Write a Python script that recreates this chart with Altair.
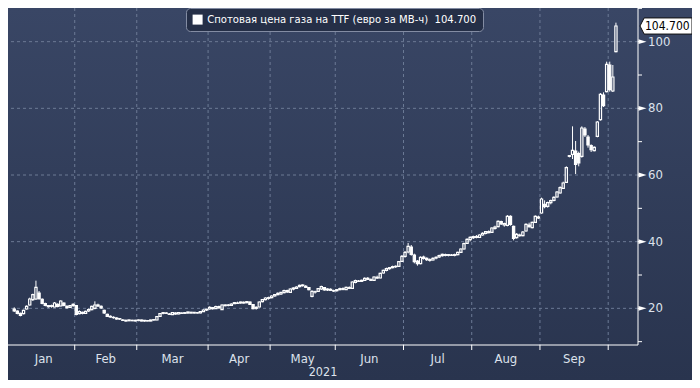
import altair as alt
import pandas as pd

# ---------------- data ----------------
months = ["Jan", "Feb", "Mar", "Apr", "May", "Jun", "Jul", "Aug", "Sep", "Oct"]
month_days = [20, 20, 23, 20, 21, 22, 22, 22, 22, 3]
month_shown = [True, True, True, True, True, True, True, True, True, False]
year_label = "2021"

open_ = [
    19.8, 19.2, 18.5, 18.4, 19.8, 21.0, 22.6, 22.8, 24.6, 22.7, 21.4, 20.8, 20.6, 20.4, 21.2, 20.7, 21.6, 20.6, 20.3, 20.8,
    20.8, 18.4, 18.8, 18.5, 19.2, 19.6, 20.0, 21.0, 20.6, 19.4, 18.2, 17.6, 17.3, 17.1, 16.8, 16.5, 16.4, 16.3, 16.4, 16.2,
    16.4, 16.5, 16.2, 16.3, 16.2, 16.5, 16.5, 17.6, 18.5, 18.6, 18.3, 18.1, 18.6, 18.3, 18.6, 18.5, 18.6, 18.8, 18.6, 18.7, 18.6, 19.0, 19.5,
    19.8, 20.2, 19.9, 20.5, 19.6, 20.8, 21.0, 20.9, 21.4, 21.6, 21.6, 21.8, 21.7, 21.9, 21.1, 20.0, 20.4, 22.0, 22.6, 23.0,
    23.2, 23.7, 24.1, 24.3, 24.7, 25.3, 24.8, 25.8, 26.0, 26.5, 26.8, 26.6, 26.2, 23.6, 24.9, 25.1, 25.8, 26.2, 25.5, 25.7, 25.3,
    25.3, 25.6, 25.9, 25.6, 26.2, 26.0, 27.8, 28.2, 28.1, 28.4, 29.0, 28.6, 28.4, 29.3, 29.1, 30.6, 31.4, 31.9, 32.2, 32.5, 32.6, 34.1,
    35.6, 36.9, 38.4, 36.0, 34.2, 33.4, 35.4, 35.0, 34.6, 34.5, 35.1, 35.4, 35.8, 36.1, 35.9, 36.0, 35.9, 36.1, 36.8, 37.8, 39.5, 40.6,
    41.2, 41.5, 41.3, 42.0, 42.5, 43.0, 42.8, 44.0, 44.5, 46.0, 45.0, 44.9, 47.6, 44.6, 41.2, 42.0, 41.8, 43.2, 45.0, 44.2, 45.8, 47.4,
    48.6, 51.2, 50.6, 51.7, 52.4, 53.4, 54.6, 56.0, 57.8, 65.6, 66.2, 67.2, 66.4, 65.6, 73.8, 71.4, 68.8, 67.3, 71.6, 76.6, 84.0, 85.0,
    93.0, 85.2, 97.0,
]
high = [
    20.3, 19.4, 18.7, 19.6, 20.9, 23.2, 24.4, 28.3, 25.2, 23.0, 21.7, 21.0, 21.1, 21.9, 21.5, 22.4, 21.8, 20.9, 21.0, 21.5,
    21.0, 19.4, 19.0, 19.3, 20.0, 20.8, 22.1, 21.4, 20.9, 19.6, 18.4, 17.9, 17.6, 17.3, 17.1, 16.8, 16.6, 16.7, 16.6, 16.6,
    16.7, 16.6, 16.5, 16.5, 16.6, 16.8, 17.7, 18.6, 18.9, 18.9, 18.6, 18.9, 18.8, 18.9, 18.8, 18.9, 19.0, 19.0, 18.9, 18.9, 19.2, 19.7, 19.9,
    20.6, 20.4, 20.8, 20.8, 21.2, 21.2, 21.3, 21.5, 21.9, 22.0, 22.0, 22.1, 22.2, 22.1, 21.3, 20.6, 22.1, 22.8, 23.3, 23.5,
    23.9, 24.3, 24.8, 24.9, 25.6, 25.6, 26.0, 26.3, 26.6, 27.1, 27.2, 27.0, 26.4, 25.4, 25.3, 26.1, 26.8, 26.4, 26.0, 26.0, 25.6,
    25.8, 26.2, 26.3, 26.5, 26.6, 28.1, 28.6, 28.5, 28.6, 29.3, 29.4, 29.0, 29.6, 29.8, 30.7, 31.6, 32.2, 32.4, 32.8, 32.9, 34.2, 36.0,
    37.2, 39.6, 39.0, 36.4, 34.5, 35.6, 35.8, 35.3, 35.0, 35.3, 35.6, 36.1, 36.4, 36.4, 36.3, 36.3, 36.4, 37.0, 38.0, 39.7, 41.0, 41.6,
    41.8, 42.0, 42.2, 42.8, 43.2, 43.4, 44.3, 44.8, 46.4, 46.3, 45.7, 48.0, 47.9, 44.8, 42.6, 42.4, 43.2, 45.5, 45.7, 46.0, 47.9, 47.8,
    53.2, 52.4, 52.0, 52.6, 53.6, 55.2, 56.6, 58.0, 62.6, 66.0, 74.6, 70.2, 67.0, 74.6, 74.4, 72.0, 69.2, 68.6, 76.2, 84.6, 84.8, 94.0,
    94.0, 93.0, 105.7,
]
low = [
    18.9, 18.2, 17.6, 18.2, 19.6, 20.8, 22.2, 22.5, 22.6, 21.2, 20.6, 20.2, 20.2, 20.3, 20.3, 20.6, 20.6, 19.9, 20.2, 20.5,
    17.9, 18.2, 18.2, 18.3, 18.9, 19.4, 19.7, 20.4, 19.8, 18.3, 17.4, 17.2, 16.9, 16.6, 16.5, 16.2, 16.0, 16.1, 16.1, 16.0,
    16.1, 16.1, 16.0, 16.1, 16.1, 16.3, 16.4, 17.5, 18.2, 18.3, 18.0, 18.0, 18.1, 18.2, 18.3, 18.3, 18.4, 18.4, 18.4, 18.4, 18.5, 18.9, 19.2,
    19.6, 19.6, 19.8, 19.9, 19.5, 20.6, 20.6, 20.8, 21.3, 21.3, 21.4, 21.4, 21.5, 21.0, 19.7, 19.6, 20.3, 21.8, 22.4, 22.6,
    23.0, 23.5, 23.9, 24.0, 24.5, 24.6, 24.7, 25.4, 25.8, 26.3, 26.5, 26.1, 25.4, 23.3, 24.4, 24.9, 25.5, 25.3, 25.2, 25.3, 24.9,
    25.0, 25.4, 25.4, 25.5, 25.8, 25.9, 27.5, 27.9, 27.9, 28.2, 28.5, 28.2, 28.3, 28.8, 29.0, 30.4, 31.1, 31.6, 32.0, 32.1, 32.5, 33.9,
    35.2, 36.5, 35.8, 33.5, 32.8, 33.2, 34.6, 34.2, 34.0, 34.3, 34.7, 35.1, 35.5, 35.6, 35.6, 35.7, 35.6, 35.9, 36.6, 37.6, 39.3, 40.1,
    40.8, 41.0, 41.1, 41.8, 42.2, 42.5, 42.6, 43.6, 44.3, 45.0, 44.5, 44.6, 44.8, 40.4, 40.9, 41.5, 41.6, 43.0, 44.2, 44.0, 45.6, 46.8,
    48.4, 50.0, 50.2, 51.2, 52.1, 53.2, 54.4, 55.8, 57.6, 65.3, 64.8, 60.3, 62.6, 65.2, 71.4, 68.2, 66.9, 67.1, 71.3, 76.3, 80.4, 84.8,
    85.0, 84.9, 96.8,
]
close = [
    19.2, 18.5, 17.9, 19.4, 20.6, 22.8, 24.1, 26.3, 22.9, 21.5, 20.9, 20.5, 20.8, 21.6, 20.6, 22.2, 20.9, 20.2, 20.8, 21.2,
    18.2, 19.0, 18.5, 19.1, 19.6, 20.6, 21.0, 20.7, 20.1, 18.6, 17.6, 17.4, 17.2, 16.8, 16.9, 16.4, 16.2, 16.5, 16.3, 16.4,
    16.5, 16.2, 16.4, 16.2, 16.5, 16.6, 17.5, 18.4, 18.7, 18.5, 18.2, 18.7, 18.3, 18.7, 18.5, 18.7, 18.9, 18.6, 18.8, 18.6, 19.0, 19.5, 19.7,
    20.3, 19.9, 20.5, 20.1, 21.0, 21.0, 20.9, 21.3, 21.7, 21.5, 21.9, 21.6, 22.0, 21.2, 19.9, 20.3, 21.9, 22.6, 23.1, 23.2,
    23.7, 24.1, 24.5, 24.8, 25.3, 24.9, 25.8, 26.1, 26.4, 26.9, 27.0, 26.3, 25.6, 25.1, 25.0, 25.9, 26.5, 25.5, 25.8, 25.4, 25.2,
    25.6, 25.9, 25.7, 26.3, 26.0, 27.9, 28.3, 28.1, 28.4, 29.0, 28.7, 28.4, 29.4, 29.1, 30.5, 31.4, 31.9, 32.2, 32.5, 32.6, 34.0, 35.6,
    36.8, 38.6, 36.2, 34.0, 33.4, 35.3, 35.0, 34.6, 34.4, 35.0, 35.3, 35.8, 36.2, 35.9, 36.1, 35.9, 36.1, 36.8, 37.8, 39.4, 40.7, 41.3,
    41.5, 41.3, 42.0, 42.5, 43.0, 42.7, 44.1, 44.4, 46.1, 45.3, 45.4, 47.6, 45.2, 41.0, 42.2, 41.8, 42.9, 45.2, 44.5, 45.8, 47.6, 47.1,
    52.8, 50.5, 51.7, 52.3, 53.3, 54.9, 56.2, 57.6, 62.2, 65.8, 67.4, 63.2, 63.6, 74.1, 72.0, 69.0, 67.6, 68.3, 75.9, 84.2, 80.8, 93.2,
    85.6, 89.4, 104.7,
]

y_ticks = [10, 20, 30, 40, 50, 60, 70, 80, 90, 100, 110]
y_major = [20, 40, 60, 80, 100]
series_name = "Спотовая цена газа на TTF (евро за МВ-ч)"

# ---------------- layout / style ----------------
W, H = 630, 337
RP, BP = 54, 35
FONT = "DejaVu Sans Condensed, DejaVu Sans, sans-serif"
LABEL = "#dde2ec"
GRID = "#6c7a95"

last_txt = f"{close[-1]:.3f}"
SERIES = series_name + "\u00a0\u00a0" + last_txt

df = pd.DataFrame({"i": list(range(len(close))), "o": open_, "h": high, "l": low, "c": close})
df["top"] = df[["o", "c"]].max(axis=1)
df["bot"] = df[["o", "c"]].min(axis=1)
df["series"] = SERIES

starts = [0]
for d in month_days[:-1]:
    starts.append(starts[-1] + d)
bounds = [s - 0.5 for s in starts[1:]]
mdf = pd.DataFrame({
    "m": months,
    "mid": [s + d / 2 - 0.5 for s, d in zip(starts, month_days)],
    "show": month_shown,
})
mdf = mdf[mdf["show"]]
bdf = pd.DataFrame({"b": bounds})
gdf = pd.DataFrame({"v": y_major, "t": [str(v) for v in y_major]})
tdf = pd.DataFrame({"v": y_ticks})
flag_df = pd.DataFrame({"v": [close[-1]], "t": [last_txt]})

xs = alt.Scale(domain=[-0.4, 199.5], nice=False, zero=False)
ys = alt.Scale(domain=[9.0, 110.1], nice=False, zero=False)


def X(f):
    return alt.X(f, scale=xs, axis=None)


def Y(f):
    return alt.Y(f, scale=ys, axis=None)


one = pd.DataFrame({"a": [0]})

bg = alt.Chart(one).mark_rect(
    fill=alt.Gradient(
        gradient="linear",
        stops=[alt.GradientStop(color="#394665", offset=0),
               alt.GradientStop(color="#29344e", offset=1)],
        x1=0, x2=0, y1=0, y2=1,
    )
).encode(x=alt.value(0), x2=alt.value(W + RP), y=alt.value(0), y2=alt.value(H + BP))

vgrid = alt.Chart(bdf).mark_rule(color=GRID, strokeDash=[3, 3], strokeWidth=1).encode(x=X("b:Q"))
hgrid = alt.Chart(gdf).mark_rule(color=GRID, strokeDash=[3, 3], strokeWidth=1).encode(y=Y("v:Q"))

# hand-drawn axes (frame lines, ticks, labels)
x_dom = alt.Chart(one).mark_rule(color="white", strokeWidth=1).encode(
    x=alt.value(0), x2=alt.value(W), y=alt.value(H))
y_dom = alt.Chart(one).mark_rule(color="white", strokeWidth=1).encode(
    x=alt.value(W), y=alt.value(0), y2=alt.value(H))
x_ticks = alt.Chart(bdf).mark_rule(color="white", strokeWidth=1).encode(
    x=X("b:Q"), y=alt.value(H), y2=alt.value(H + 5))
y_tick_marks = alt.Chart(tdf).mark_rule(color="white", strokeWidth=1).encode(
    y=Y("v:Q"), x=alt.value(W), x2=alt.value(W + 4))
tri = alt.Chart(gdf).mark_point(
    shape="M-1,-0.6L1,0L-1,0.6Z", filled=True, fill="white", size=64, opacity=1, strokeWidth=0
).encode(x=alt.value(W + 4.5), y=Y("v:Q"))
y_labels = alt.Chart(gdf).mark_text(
    font=FONT, fontSize=13, color=LABEL, align="left", baseline="middle"
).encode(x=alt.value(W + 10), y=Y("v:Q"), text="t:N")

base = alt.Chart(df)
wick_hi = base.mark_rule(strokeWidth=1).encode(
    x=X("i:Q"), y=Y("top:Q"), y2="h:Q",
    color=alt.Color("series:N", scale=alt.Scale(range=["#ffffff"]),
                    legend=alt.Legend(title=None, orient="none", legendX=178, legendY=0,
                                      fillColor="#252f47", strokeColor="#838ca3", cornerRadius=4,
                                      padding=6, labelColor="white", labelFont=FONT, labelFontSize=11.2,
                                      labelLimit=0, symbolType="square", symbolFillColor="white",
                                      symbolStrokeColor="white", symbolSize=100, symbolStrokeWidth=0)),
)
wick_lo = base.mark_rule(strokeWidth=1, color="white").encode(x=X("i:Q"), y=Y("l:Q"), y2="bot:Q")
bodies = base.mark_bar(width=2.2, stroke="white", strokeWidth=1.2).encode(
    x=X("i:Q"), y=Y("o:Q"), y2="c:Q",
    fill=alt.condition("datum.c > datum.o", alt.value("transparent"), alt.value("white")),
)

mlabels = alt.Chart(mdf).mark_text(font=FONT, fontSize=13, color=LABEL, baseline="middle").encode(
    x=X("mid:Q"), y=alt.value(H + 14), text="m:N"
)
year = alt.Chart(pd.DataFrame({"t": [year_label]})).mark_text(
    font=FONT, fontSize=12.5, color=LABEL, baseline="middle"
).encode(x=alt.value(W / 2), y=alt.value(H + 27), text="t:N")

flag = alt.Chart(flag_df).mark_point(
    shape="M-1,0L-0.84,-0.31L1,-0.31L1,0.31L-0.84,0.31Z", filled=True, fill="white",
    stroke="#111111", strokeWidth=1, size=2704, opacity=1,
).encode(x=alt.value(W + 28), y=Y("v:Q"))
flag_txt = alt.Chart(flag_df).mark_text(
    font=FONT, fontSize=12, color="black", align="left", baseline="middle"
).encode(x=alt.value(W + 7), y=Y("v:Q"), text="t:N")

chart = alt.layer(
    bg, vgrid, hgrid, x_dom, y_dom, x_ticks, y_tick_marks, tri, y_labels,
    wick_hi, wick_lo, bodies, mlabels, year, flag, flag_txt
).properties(
    width=W, height=H,
    autosize=alt.AutoSizeParams(type="none"),
    padding={"left": 0, "top": 0, "right": RP, "bottom": BP},
    background="#2f3b57",
).configure_view(stroke=None)

chart.save("out.html", embed_options={"renderer": "svg", "actions": False})
